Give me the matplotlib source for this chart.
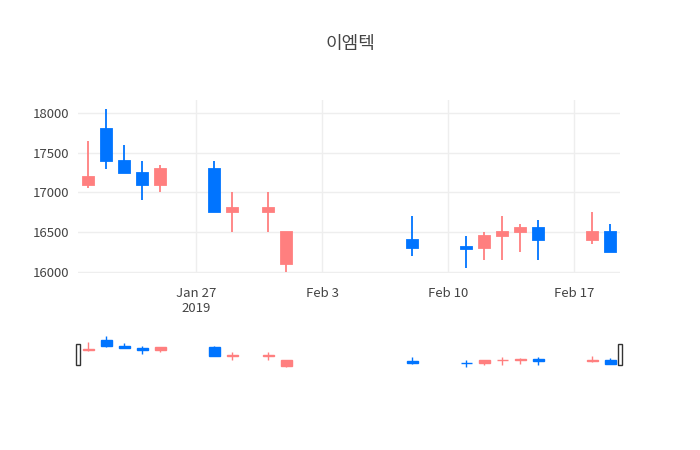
import matplotlib
matplotlib.use("Agg")
import matplotlib.pyplot as plt
import matplotlib.dates as mdates
from datetime import datetime

plt.rcParams['font.family'] = ['Noto Sans CJK KR', 'Open Sans', 'DejaVu Sans']

dates = ["2019-01-21", "2019-01-22", "2019-01-23", "2019-01-24", "2019-01-25",
         "2019-01-28", "2019-01-29", "2019-01-31", "2019-02-01", "2019-02-08",
         "2019-02-11", "2019-02-12", "2019-02-13", "2019-02-14", "2019-02-15",
         "2019-02-18", "2019-02-19"]
opens = [17100, 17800, 17400, 17250, 17100, 17300, 16750, 16750, 16100, 16400,
         16310, 16300, 16450, 16500, 16550, 16400, 16500]
highs = [17650, 18050, 17600, 17400, 17350, 17400, 17000, 17000, 16500, 16700,
         16450, 16500, 16700, 16600, 16650, 16750, 16600]
lows = [17060, 17300, 17250, 16900, 17000, 16750, 16500, 16500, 16000, 16200,
        16050, 16150, 16150, 16250, 16150, 16350, 16250]
closes = [17200, 17400, 17250, 17100, 17300, 16750, 16800, 16800, 16500, 16300,
          16290, 16450, 16500, 16550, 16400, 16500, 16250]

UP = "#FF7F7F"
DOWN = "#0074FF"

x = mdates.date2num([datetime.strptime(d, "%Y-%m-%d") for d in dates])
xmin = mdates.date2num(datetime(2019, 1, 20, 10))
xmax = mdates.date2num(datetime(2019, 2, 19, 13))


def draw_candles(ax, lw):
    for xi, o, h, l, c in zip(x, opens, highs, lows, closes):
        col = UP if c >= o else DOWN
        ax.vlines(xi, l, h, color=col, lw=lw, zorder=2)
        lo, hi = min(o, c), max(o, c)
        ax.bar(xi, max(hi - lo, 8), bottom=lo, width=0.62, color=col,
               edgecolor=col, lw=lw, zorder=3)


fig = plt.figure(figsize=(7, 4.5), dpi=100)
# main plot area: y from 100 to 273 px
ax = fig.add_axes([78 / 700, 1 - 273 / 450, 542 / 700, 173 / 450])
draw_candles(ax, 1.3)
ax.set_xlim(xmin, xmax)
ax.set_ylim(15990, 18160)
ax.set_yticks([16000, 16500, 17000, 17500, 18000])
ticks = [datetime(2019, 1, 27), datetime(2019, 2, 3), datetime(2019, 2, 10), datetime(2019, 2, 17)]
ax.set_xticks(mdates.date2num(ticks))
ax.set_xticklabels(["Jan 27\n2019", "Feb 3", "Feb 10", "Feb 17"])
ax.grid(True, color="#eeeeee", lw=1)
ax.set_axisbelow(True)
for s in ax.spines.values():
    s.set_visible(False)
ax.tick_params(length=0, labelsize=9.5, colors="#444444", pad=10)
ax.tick_params(axis="y", pad=6)

fig.text(0.5, 1 - 44 / 450, "이엠텍", ha="center", va="center", fontsize=13, color="#444444")

# range slider
rs = fig.add_axes([78 / 700, 1 - 372 / 450, 542 / 700, 40 / 450])
draw_candles(rs, 1.0)
rs.set_xlim(xmin, xmax)
rs.set_ylim(15700, 18300)
rs.set_xticks([])
rs.set_yticks([])
for s in rs.spines.values():
    s.set_visible(False)
for hx in (xmin, xmax):
    rs.add_patch(plt.Rectangle((hx - 0.12, 16150), 0.24, 1400, facecolor="white",
                               edgecolor="#333333", lw=1, clip_on=False, zorder=5))

fig.savefig("out.png", dpi=100)
